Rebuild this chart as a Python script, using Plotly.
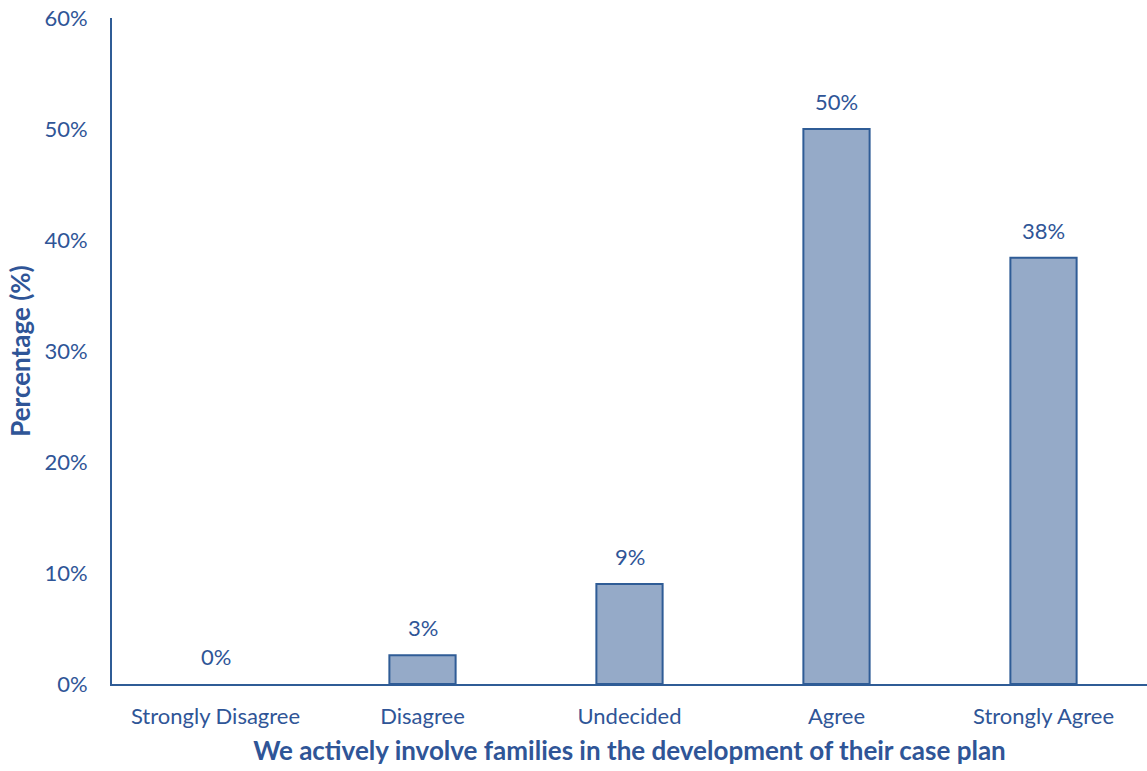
import plotly.graph_objects as go

categories = ["Strongly Disagree", "Disagree", "Undecided", "Agree", "Strongly Agree"]
percentages = [0.0, 2.6, 9.0, 50.0, 38.4]
y_ticks = [0, 10, 20, 30, 40, 50, 60]
y_tick_labels = ["0%", "10%", "20%", "30%", "40%", "50%", "60%"]

TEXT_BLUE = "#2F5597"
LINE_BLUE = "#2F5C96"
BAR_FILL = "#95AAC8"
FONT = "Lato, 'Open Sans', sans-serif"

# no outline on empty bars
outline_widths = [2 if v > 0 else 0 for v in percentages]

fig = go.Figure()
fig.add_trace(go.Bar(
    x=categories,
    y=percentages,
    width=0.32,
    marker=dict(color=BAR_FILL, line=dict(color=LINE_BLUE, width=outline_widths)),
    hoverinfo="skip",
))

# value labels above each bar
for cat, val in zip(categories, percentages):
    fig.add_annotation(
        x=cat, y=val, text=f"{val:.0f}%",
        showarrow=False, yanchor="bottom", yshift=12,
        font=dict(family=FONT, size=22, color=TEXT_BLUE),
    )

fig.update_layout(
    width=1147, height=771,
    margin=dict(l=112, r=0, t=18, b=87),
    paper_bgcolor="white", plot_bgcolor="white",
    showlegend=False,
    font=dict(family=FONT, color=TEXT_BLUE),
    xaxis=dict(
        range=[-0.5, 4.5],
        showline=True, linecolor=LINE_BLUE, linewidth=2,
        showgrid=False, ticks="", ticklabelstandoff=12,
        tickfont=dict(family=FONT, size=22, color=TEXT_BLUE),
        title=dict(text="<b>We actively involve families in the development of their case plan</b>",
                   font=dict(family=FONT, size=26, color=TEXT_BLUE), standoff=13),
    ),
    yaxis=dict(
        range=[0, 60],
        tickvals=y_ticks, ticktext=y_tick_labels,
        showline=True, linecolor=LINE_BLUE, linewidth=2,
        showgrid=False, zeroline=False, ticks="", ticklabelstandoff=18,
        tickfont=dict(family=FONT, size=22, color=TEXT_BLUE),
        title=dict(text="<b>Percentage (%)</b>",
                   font=dict(family=FONT, size=26, color=TEXT_BLUE), standoff=6),
    ),
)

fig.write_html("out.html")
